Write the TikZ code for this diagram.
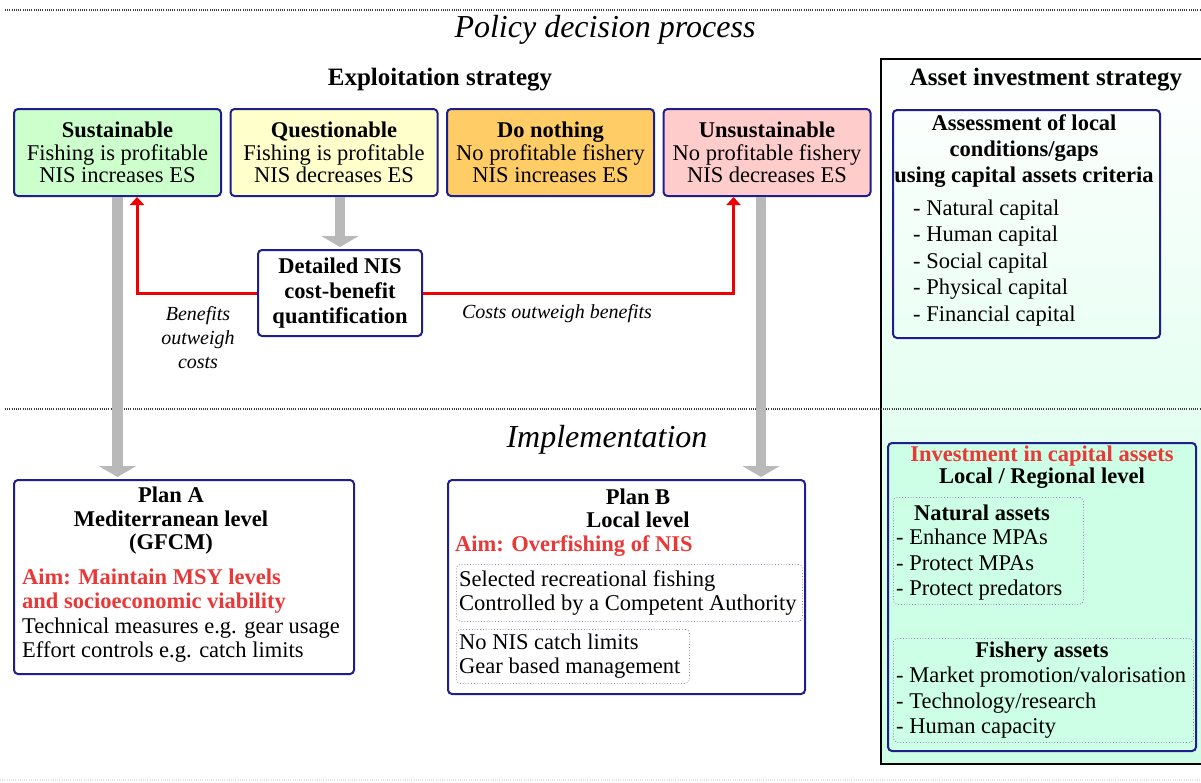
\documentclass[tikz,border=0pt]{standalone}
\usepackage{fontspec}
\setmainfont{Liberation Serif}
\usetikzlibrary{arrows.meta}
\definecolor{navy}{RGB}{30,30,140}
\definecolor{aimred}{RGB}{232,56,56}
\definecolor{arrowred}{RGB}{240,0,0}
\definecolor{shaftgray}{RGB}{185,185,185}
\definecolor{mint}{RGB}{204,255,229}
\definecolor{sustgreen}{RGB}{204,255,204}
\definecolor{questyellow}{RGB}{255,255,204}
\definecolor{nothingorange}{RGB}{255,204,102}
\definecolor{unsustpink}{RGB}{255,204,204}
\definecolor{subgray}{RGB}{140,140,175}
\newcommand{\fs}[2][22.5]{\fontsize{#1}{#2}\selectfont}
\tikzstyle{case} = [draw=navy, line width=2pt, rounded corners=4pt, minimum width=207pt, minimum height=87pt, align=center, inner sep=0pt, font={\fs{22.5}}]
\tikzstyle{plan} = [draw=navy, line width=2pt, rounded corners=4pt, anchor=north west, inner sep=0pt]
\tikzstyle{subbox} = [draw=subgray, dotted, line width=0.8pt, rounded corners=4pt, anchor=north west, inner sep=0pt]
\tikzstyle{bigtitle} = [font={\fs[32]{36}\itshape}]
\tikzstyle{heading} = [font={\fs[25]{28}\bfseries}]
\tikzstyle{note} = [align=center, font={\fs[20]{24}\itshape}]
\tikzstyle{lines} = [anchor=west, align=left, inner sep=0pt]
\tikzstyle{bigarrow} = [draw=shaftgray, line width=10.5pt, -{Triangle[width=37pt,length=11pt]}]
\tikzstyle{redarrow} = [draw=arrowred, line width=3pt, -{Triangle[width=14pt,length=8pt]}]
\tikzstyle{dotline} = [draw=gray!50!black, line width=2.5pt, dash pattern=on 1pt off 1.2pt]

\begin{document}
\begin{tikzpicture}[x=1pt,y=-1pt]
%\draw[help lines] (0,0) grid[step=100] (1201,782);
\useasboundingbox (0,0) rectangle (1201,782);
\node[draw=black, line width=1.5pt, top color=white, bottom color=mint, anchor=north west, minimum width=330pt, minimum height=705pt, inner sep=0pt] (assetpanel) at (880,58) {};
\draw[dotline] (5,10) -- (1201,10);
\draw[dotline] (5,409) -- (1201,409);
\draw[dotline, draw=gray!20] (0,780) -- (1201,780);

\node[bigtitle] (policy) at (605,30) {Policy decision process};
\node[bigtitle] (implement) at (607,440) {Implementation};
\node[heading] (exploit) at (440,80) {Exploitation strategy};
\node[heading] (assethead) at (1046,80) {Asset investment strategy};

\node[case, fill=sustgreen] (sust) at (117.5,152.5) {\textbf{Sustainable}\\Fishing is profitable\\NIS increases ES};
\node[case, fill=questyellow] (quest) at (334,152.5) {\textbf{Questionable}\\Fishing is profitable\\NIS decreases ES};
\node[case, fill=nothingorange] (nothing) at (550.5,152.5) {\textbf{Do nothing}\\No profitable fishery\\NIS increases ES};
\node[case, fill=unsustpink] (unsust) at (767,152.5) {\textbf{Unsustainable}\\No profitable fishery\\NIS decreases ES};
\node[case, fill=white, minimum width=164pt, minimum height=86pt, font={\fs{25}\bfseries}] (detail) at (340,293) {Detailed NIS\\cost-benefit\\quantification};

\node[note] (benefit) at (198,338) {Benefits\\outweigh\\costs};
\node[note] (costs) at (557,314) {Costs outweigh benefits};

% assessment
\node[plan, minimum width=267pt, minimum height=228pt] (assessbox) at (892,109) {};
\node[font={\fs{26}\bfseries}, align=center] (assesshead) at (1024,151) {Assessment of local\\conditions/gaps\\using capital assets criteria};
\node[lines, font={\fs{26.5}}] (assesslist) at (913,263) {- Natural capital\\- Human capital\\- Social capital\\- Physical capital\\- Financial capital};

% plan A
\node[plan, fill=white, minimum width=340pt, minimum height=194pt] (planA) at (13,479) {};
\node[font={\fs{23.5}\bfseries}, align=center] (planAhead) at (171,521) {Plan A\\Mediterranean level\\(GFCM)};
\node[lines, font={\fs{24.5}\bfseries}, text=aimred] (planAaim) at (22,591) {Aim: Maintain MSY levels\\and socioeconomic viability};
\node[lines, font={\fs{24.5}}] (planAtext) at (22,640) {Technical measures e.g. gear usage\\Effort controls e.g. catch limits};

% plan B
\node[plan, fill=white, minimum width=357pt, minimum height=214pt] (planB) at (447,479) {};
\node[font={\fs{23}\bfseries}, align=center] (planBhead) at (638,508) {Plan B\\Local level};
\node[lines, font={\fs{24}\bfseries}, text=aimred] (planBaim) at (455,546) {Aim: Overfishing of NIS};
\node[subbox, minimum width=346pt, minimum height=57pt] (recbox) at (456,564) {};
\node[lines, font={\fs{24}}] (rectext) at (459,593) {Selected recreational fishing\\Controlled by a Competent Authority};
\node[subbox, minimum width=233pt, minimum height=54pt] (gearbox) at (456,629) {};
\node[lines, font={\fs{24.5}}] (geartext) at (459,656) {No NIS catch limits\\Gear based management};

% investment
\node[plan, fill=mint, minimum width=308pt, minimum height=308pt] (investbox) at (887,442) {};
\node[font={\fs{22}\bfseries}, align=center] (investhead) at (1042,467) {\textcolor{aimred}{Investment in capital assets}\\Local / Regional level};
\node[subbox, minimum width=190pt, minimum height=107pt] (naturalbox) at (893,497) {};
\node[font={\fs{25}\bfseries}] (naturalhead) at (982,513) {Natural assets};
\node[lines, font={\fs{25.5}}] (naturallist) at (896,565) {- Enhance MPAs\\- Protect MPAs\\- Protect predators};
\node[subbox, minimum width=300pt, minimum height=104pt] (fisherybox) at (893,638) {};
\node[font={\fs{25}\bfseries}] (fisheryhead) at (1042,652) {Fishery assets};
\node[lines, font={\fs{25.5}}] (fisherylist) at (896,703) {- Market promotion/valorisation\\- Technology/research\\- Human capacity};

\draw[bigarrow, shorten >=2pt] (detail.north |- quest.south) -- (detail.north);
\draw[bigarrow, shorten >=2pt] (sust.south) -- (sust.south |- planA.north);
\draw[bigarrow, shorten >=2pt] ([xshift=-6pt]unsust.south) -- ([xshift=-6pt]unsust.south |- planB.north);
\draw[redarrow] (detail.west) -| ([xshift=19.5pt]sust.south);
\draw[redarrow] (detail.east) -| ([xshift=-33.5pt]unsust.south);
\end{tikzpicture}
\end{document}
